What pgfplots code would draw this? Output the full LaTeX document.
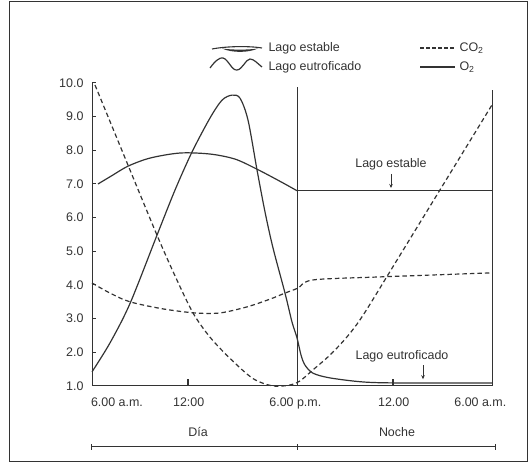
\documentclass[border=0pt]{standalone}
\usepackage{fontspec}
\setmainfont{Liberation Sans}
\usepackage{pgfplots}
\pgfplotsset{compat=1.18}
\usetikzlibrary{arrows.meta}

\definecolor{ink}{gray}{0.2}

\begin{document}
\begin{tikzpicture}[font=\fontsize{12.5}{14}\selectfont, x=1bp, y=1bp]
\useasboundingbox (0,0) rectangle (529,463);
% outer frame
\draw[ink, line width=1bp] (9,1) rectangle (527,461);

\begin{axis}[
    at={(92bp,77bp)}, anchor=south west,
    scale only axis, width=400bp, height=303bp,
    xmin=0, xmax=24, ymin=1, ymax=10,
    clip=false,
    axis x line*=bottom, axis y line*=left,
    axis line style={-, ink, line width=1bp},
    ytick={1,...,10},
    tick align=inside,
    major tick length=4bp,
    ytick style={ink, line width=1bp},
    /pgf/number format/fixed,
    /pgf/number format/fixed zerofill,
    /pgf/number format/precision=1,
    /pgf/number format/assume math mode=true,
    yticklabel style={xshift=-5bp, text=ink},
    xtick={1.5,5.8,12.2,18.1,23.3},
    xticklabels={6.00 a.m., 12:00, 6.00 p.m., 12.00, 6.00 a.m.},
    xtick style={draw=none},
    xticklabel style={yshift=-8bp, text=ink},
    every axis plot/.append style={ink, line width=1.2bp, no marks},
]
% O2, lago estable
\addplot[smooth, tension=0.5] coordinates {
 (0.36,7.0) (1.2,7.25) (2.16,7.53) (3.48,7.77) (5.28,7.92) (7.08,7.89)
 (8.58,7.74) (9.9,7.44) (11.28,7.08) (12.3,6.8)};
\addplot[sharp plot] coordinates {(12.3,6.8) (24,6.8)};
% O2, lago eutroficado
\addplot[smooth, tension=0.5] coordinates {
 (0,1.42) (1.08,2.28) (2.28,3.45) (3.9,5.48) (4.98,6.82) (6.0,7.95)
 (7.08,8.96) (7.8,9.49) (8.4,9.64) (8.88,9.55) (9.36,8.9) (9.9,7.42)
 (10.38,6.17) (10.86,5.1) (11.58,3.76) (12.0,2.9) (12.3,2.43) (12.54,1.92)
 (12.78,1.62) (13.26,1.38) (14.28,1.24) (16.26,1.12) (18.48,1.09) (24,1.09)};
% CO2, lago estable
\addplot[smooth, tension=0.5, dash pattern=on 4.5bp off 3bp] coordinates {
 (0,4.06) (1.08,3.76) (2.28,3.5) (4.26,3.29) (6.18,3.17) (7.68,3.17)
 (9.3,3.35) (10.68,3.58) (11.58,3.76) (12.36,3.91) (13.26,4.15)
 (17.28,4.24) (24,4.36)};
% CO2, lago eutroficado
\addplot[smooth, tension=0.5, dash pattern=on 4.5bp off 3bp] coordinates {
 (0.18,9.94) (2.16,7.56) (3.9,5.48) (5.0,4.25) (6.06,3.17) (7.08,2.45)
 (8.28,1.82) (9.66,1.22) (10.86,1.0) (11.88,1.03) (12.48,1.15)
 (13.26,1.48) (14.28,1.92) (15.3,2.46) (16.26,3.1) (18.3,4.74)
 (24,9.35)};

% day/night divider and right edge
\draw[ink, line width=1bp] (axis cs:12.3,1) -- (axis cs:12.3,9.88);
\draw[ink, line width=1bp] (axis cs:24,1) -- (axis cs:24,9.8);
% small ticks at noon and midnight
\draw[ink, line width=1.2bp] (axis cs:5.76,1) -- (axis cs:5.76,1.2);
\draw[ink, line width=1.2bp] (axis cs:18.06,1) -- (axis cs:18.06,1.2);

% annotations
\node[text=ink] at (axis cs:17.94,7.58) {Lago estable};
\draw[ink, line width=0.8bp, -{Stealth[length=4bp,width=3.5bp]}] (axis cs:17.94,7.3) -- (axis cs:17.94,6.88);
\node[text=ink] at (axis cs:18.6,1.88) {Lago eutroficado};
\draw[ink, line width=0.8bp, -{Stealth[length=4bp,width=3.5bp]}] (axis cs:19.86,1.62) -- (axis cs:19.86,1.2);
\end{axis}

% legend (top)
\draw[ink, line width=1.1bp] (212,414) .. controls (228,417) and (250,417) .. (262,415);
\fill[ink] (222,414.5) .. controls (232,410) and (248,410) .. (258,414.5) .. controls (248,413) and (232,413) .. (222,414.5);
\draw[ink, line width=1.2bp] (210,395) .. controls (215,402) and (220,406) .. (223,405)
  .. controls (228,404) and (232,392) .. (237,393)
  .. controls (242,393) and (246,404) .. (250,404)
  .. controls (254,404) and (258,399) .. (262,396);
\node[text=ink, anchor=west] at (265,415) {Lago estable};
\node[text=ink, anchor=west] at (265,396) {Lago eutroficado};
\draw[ink, line width=1.1bp, dash pattern=on 3.5bp off 2.5bp] (420,415) -- (455,415);
\draw[ink, line width=1.1bp] (420,396) -- (455,396);
\node[text=ink, anchor=west] at (456,415) {CO\textsubscript{2}};
\node[text=ink, anchor=west] at (456,396) {O\textsubscript{2}};

% day / night scale
\draw[ink, line width=1bp] (91,16) -- (495,16);
\foreach \xx in {91,297,495} \draw[ink, line width=1bp] (\xx,13) -- (\xx,19);
\node[text=ink] at (198,31) {Día};
\node[text=ink] at (397,31) {Noche};
\end{tikzpicture}
\end{document}
